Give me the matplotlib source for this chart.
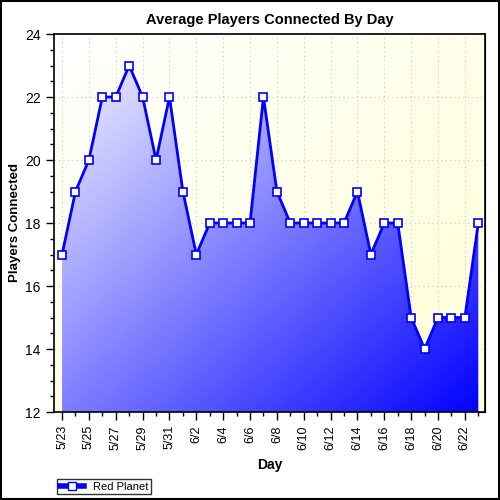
import numpy as np
from matplotlib import pyplot as plt
from matplotlib.patches import Rectangle
from matplotlib.lines import Line2D
from matplotlib.ticker import MultipleLocator

plt.rcParams['font.family'] = ['Liberation Sans', 'DejaVu Sans']

days = ['5/23', '5/24', '5/25', '5/26', '5/27', '5/28', '5/29', '5/30', '5/31',
        '6/1', '6/2', '6/3', '6/4', '6/5', '6/6', '6/7', '6/8', '6/9', '6/10',
        '6/11', '6/12', '6/13', '6/14', '6/15', '6/16', '6/17', '6/18', '6/19',
        '6/20', '6/21', '6/22', '6/23']
players = [17, 19, 20, 22, 22, 23, 22, 20, 22, 19, 17, 18, 18, 18, 18, 22, 19,
           18, 18, 18, 18, 18, 19, 17, 18, 18, 15, 14, 15, 15, 15, 18]

x = np.arange(len(days))
xmin, xmax = -0.6, len(days) - 0.5
ymin, ymax = 12, 24

fig = plt.figure(figsize=(5, 5), dpi=100)
ax = fig.add_axes([0.108, 0.176, 0.862, 0.756])

# background gradient: white top-left -> pale yellow bottom-right
gx, gy = np.meshgrid(np.linspace(0, 1, 200), np.linspace(0, 1, 200))
t = (gx + gy) / 2
bg = np.zeros((200, 200, 3))
bg[..., 0] = 1.0
bg[..., 1] = 1.0
bg[..., 2] = 1.0 - t * 0.16
ax.imshow(bg, extent=[xmin, xmax, ymin, ymax], origin='upper', aspect='auto', zorder=0.2)

# area fill gradient: white top-left -> blue bottom-right
fg = np.zeros((200, 200, 3))
fg[..., 0] = 1.0 - t
fg[..., 1] = 1.0 - t
fg[..., 2] = 1.0
poly = ax.fill_between(x, players, ymin, color='none', lw=0)
im = ax.imshow(fg, extent=[xmin, xmax, ymin, ymax], origin='upper', aspect='auto', zorder=1)
im.set_clip_path(poly.get_paths()[0], transform=ax.transData)

ax.plot(x, players, color='#0000ff', lw=2, marker='s', markersize=5.5,
        markerfacecolor='white', markeredgecolor='#0000ff', markeredgewidth=1.2, zorder=3)

ax.set_xlim(xmin, xmax)
ax.set_ylim(ymin, ymax)

ax.set_xticks(x[::2])
ax.set_xticklabels(days[::2], rotation=90, fontsize=9)
ax.xaxis.set_minor_locator(MultipleLocator(1))
ax.yaxis.set_major_locator(MultipleLocator(2))
ax.yaxis.set_minor_locator(MultipleLocator(0.5))
ax.tick_params(axis='y', labelsize=10)
ax.tick_params(which='major', length=6, width=1)
ax.tick_params(which='minor', length=3, width=1)

ax.set_axisbelow(True)
ax.grid(True, which='major', color='#c8c8c8', linestyle=(0, (1, 3)), lw=0.8)

# inner ticks on top and right
top = ax.secondary_xaxis('top')
top.set_xticks(x[::2])
top.xaxis.set_minor_locator(MultipleLocator(1))
top.tick_params(which='both', direction='in', labeltop=False)
top.tick_params(which='major', length=5)
top.tick_params(which='minor', length=3)
right = ax.secondary_yaxis('right')
right.yaxis.set_major_locator(MultipleLocator(2))
right.yaxis.set_minor_locator(MultipleLocator(0.5))
right.tick_params(which='both', direction='in', labelright=False)
right.tick_params(which='major', length=5)
right.tick_params(which='minor', length=3)

for s in ax.spines.values():
    s.set_linewidth(1.2)

ax.set_title('Average Players Connected By Day', fontsize=10.5, fontweight='bold', pad=7)
ax.set_xlabel('Day', fontsize=10, fontweight='bold', labelpad=6)
ax.set_ylabel('Players Connected', fontsize=9.5, fontweight='bold', labelpad=3)

handle = Line2D([], [], color='#0000ff', lw=4, marker='s', markersize=6,
                markerfacecolor='white', markeredgecolor='#0000ff')
fig.legend([handle], ['Red Planet'], loc='lower left', bbox_to_anchor=(0.103, 0.0),
           fontsize=8, frameon=True, fancybox=False, edgecolor='black',
           handlelength=2.2, borderpad=0.25, handletextpad=0.8)

fig.patches.append(Rectangle((0.002, 0.002), 0.996, 0.996, transform=fig.transFigure,
                             fill=False, edgecolor='black', lw=1.5))

fig.savefig('out.png', dpi=100)
